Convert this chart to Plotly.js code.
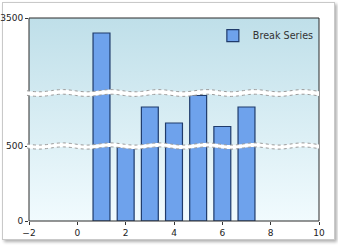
<!DOCTYPE html>
<html>
<head>
<meta charset="utf-8">
<script src="https://cdn.plot.ly/plotly-3.0.1.min.js"></script>
<style>
  html, body { margin: 0; padding: 0; background: #ffffff; }
  #frame { position: absolute; left: 2px; top: 2px; width: 331px; height: 236px;
           border: 1px solid #c9c9c9; box-shadow: 2px 2px 3px #b0b0b0; background: #fff; }
  #bg { position: absolute; left: 29px; top: 18px; width: 290px; height: 203px;
        background: linear-gradient(to bottom, #bfdfe9 0%, #f1fbfe 100%); }
  #chart { position: absolute; left: 0; top: 0; width: 338px; height: 245px; }
</style>
</head>
<body>
<div id="frame"></div>
<div id="bg"></div>
<div id="chart"></div>
<script>
// ---- data ----
const categories = [1, 2, 3, 4, 5, 6, 7];
const values = [3100, 490, 1236, 934, 1453, 868, 1236];
const seriesName = "Break Series";
const xTickVals = [-2, 0, 2, 4, 6, 8, 10];
const lowerTicks = [0, 500];
const upperTicks = [3500];

// ---- layout geometry (styling) ----
const W = 338, H = 245;
const mL = 29, mR = 19, mT = 18, mB = 24;
const plotW = W - mL - mR, plotH = H - mT - mB;
const segLowTop = (221 - 146) / plotH;
const segMidTop = (221 - 93) / plotH;

const barColor = '#6ea2ec';
const barLine = '#1f3b6b';
const font = { family: 'DejaVu Sans, Verdana, sans-serif', size: 9, color: '#222' };

function mkTrace(yax, show) {
  return {
    type: 'bar', x: categories, y: values, name: seriesName, yaxis: yax,
    width: 0.7, showlegend: show,
    marker: { color: barColor, line: { color: barLine, width: 1.2 } },
    hoverinfo: 'skip'
  };
}

function wave(yPx, amp, phase) {
  const pts = [];
  const n = 120;
  for (let i = 0; i <= n; i++) {
    const px = -2 + (plotW + 2) * i / n;
    const y = yPx + amp * Math.sin(2 * Math.PI * px / 48 + phase);
    pts.push([px / plotW, (221 - y) / plotH]);
  }
  return pts;
}
function linePath(pts) {
  return pts.map((p, i) => (i ? 'L' : 'M') + p[0].toFixed(5) + ',' + p[1].toFixed(5)).join(' ');
}
function bandPath(top, bot) {
  const a = top.map((p, i) => (i ? 'L' : 'M') + p[0].toFixed(5) + ',' + p[1].toFixed(5)).join(' ');
  const b = bot.slice().reverse().map(p => 'L' + p[0].toFixed(5) + ',' + p[1].toFixed(5)).join(' ');
  return a + ' ' + b + ' Z';
}
function breakShapes(cy, gap) {
  const t = wave(cy - gap / 2, 1.1, 0.3);
  const b = wave(cy + gap / 2, 1.1, 0.3);
  return [
    { type: 'path', xref: 'paper', yref: 'paper', layer: 'above', path: bandPath(t, b),
      fillcolor: '#ffffff', line: { width: 0 } },
    { type: 'path', xref: 'paper', yref: 'paper', layer: 'above', path: linePath(t),
      line: { color: '#9a9a9a', width: 1, dash: 'dot' } },
    { type: 'path', xref: 'paper', yref: 'paper', layer: 'above', path: linePath(b),
      line: { color: '#9a9a9a', width: 1, dash: 'dot' } }
  ];
}

const shapes = [
  { type: 'rect', xref: 'paper', yref: 'paper', x0: 0, x1: 1, y0: 0, y1: 1,
    layer: 'above', line: { color: '#2b2b2b', width: 1 }, fillcolor: 'rgba(0,0,0,0)' }
].concat(breakShapes(93, 4.6), breakShapes(146, 4));

const layout = {
  width: W, height: H,
  margin: { l: mL, r: mR, t: mT, b: mB, autoexpand: false },
  paper_bgcolor: 'rgba(0,0,0,0)', plot_bgcolor: 'rgba(0,0,0,0)',
  font: font,
  xaxis: { range: [-2, 10], tickvals: xTickVals, ticks: 'outside', ticklen: 3,
           tickcolor: '#333', showgrid: false, zeroline: false, showline: false,
           tickfont: font, anchor: 'y', automargin: false },
  yaxis: { domain: [0, segLowTop], range: [0, 500], tickvals: lowerTicks,
           ticks: 'outside', ticklen: 3, tickcolor: '#333', showgrid: false,
           zeroline: false, showline: false, tickfont: font, automargin: false },
  yaxis2: { domain: [segLowTop, segMidTop], range: [500, 1500], showticklabels: false,
            ticks: '', showgrid: false, zeroline: false, showline: false, anchor: 'x' },
  yaxis3: { domain: [segMidTop, 1], range: [1500, 3500], tickvals: upperTicks,
            ticks: 'outside', ticklen: 3, tickcolor: '#333', showgrid: false,
            zeroline: false, showline: false, tickfont: font, anchor: 'x', automargin: false },
  showlegend: true,
  legend: { x: 0.634, y: 0.985, xanchor: 'left', yanchor: 'top', bgcolor: 'rgba(0,0,0,0)',
            font: { family: 'DejaVu Sans, Verdana, sans-serif', size: 9.6, color: '#333' },
            itemwidth: 30 },
  shapes: shapes
};

Plotly.newPlot('chart', [mkTrace('y', true), mkTrace('y2', false), mkTrace('y3', false)],
  layout, { staticPlot: true, displayModeBar: false });
</script>
</body>
</html>
